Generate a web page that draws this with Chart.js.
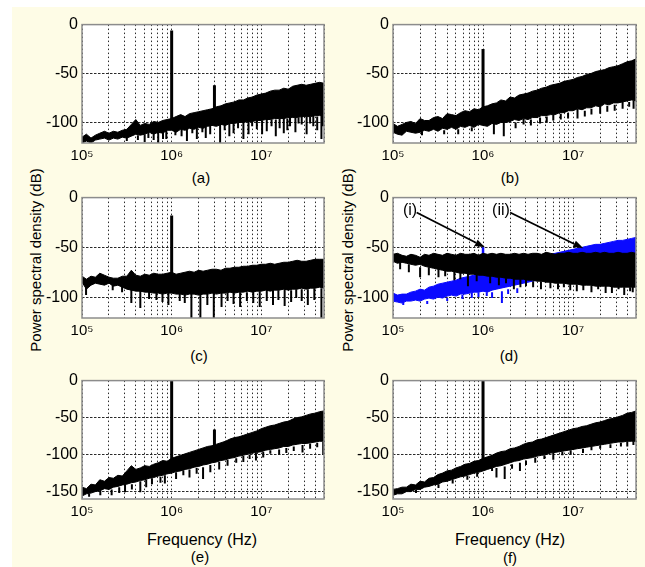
<!DOCTYPE html>
<html>
<head>
<meta charset="utf-8">
<script src="https://cdn.jsdelivr.net/npm/chart.js@4.4.1/dist/chart.umd.min.js"></script>
<style>
  html, body { margin: 0; padding: 0; background: #fff; }
  body { width: 645px; height: 567px; position: relative; overflow: hidden; font-family: "Liberation Sans", Arial, sans-serif; }
  #bg { position: absolute; left: 12px; top: 7px; right: 0; bottom: 0; background: #fefce6; }
  canvas { position: absolute; }
  .lbl { position: absolute; transform: translate(-50%, -50%); white-space: nowrap; color: #000; font-size: 15px; }
  .ylab { position: absolute; transform: translate(-50%, -50%) rotate(-90deg); white-space: nowrap; color: #000; font-size: 15px; }
</style>
</head>
<body>
<div id="bg"></div>

<div class="lbl" style="left:201px; top:177px">(a)</div>
<div class="lbl" style="left:510px; top:177px">(b)</div>
<div class="lbl" style="left:199px; top:355px">(c)</div>
<div class="lbl" style="left:509px; top:355px">(d)</div>
<div class="lbl" style="left:202px; top:540px; font-size:16px">Frequency (Hz)</div>
<div class="lbl" style="left:510px; top:540px; font-size:16px">Frequency (Hz)</div>
<div class="lbl" style="left:200px; top:556px">(e)</div>
<div class="lbl" style="left:510px; top:557px">(f)</div>
<div class="ylab" style="left:35px; top:260px">Power spectral density (dB)</div>
<div class="ylab" style="left:347px; top:260px">Power spectral density (dB)</div>

<script>
// frequency points (Hz), shared by every trace
const freq = [1.00e5, 1.12e5, 1.26e5, 1.41e5, 1.58e5, 1.78e5, 2.00e5, 2.24e5, 2.51e5, 2.82e5,
  3.16e5, 3.55e5, 3.98e5, 4.47e5, 5.01e5, 5.62e5, 6.31e5, 7.08e5, 7.94e5, 8.91e5,
  1.00e6, 1.12e6, 1.26e6, 1.41e6, 1.58e6, 1.78e6, 2.00e6, 2.24e6, 2.51e6, 2.82e6,
  3.16e6, 3.55e6, 3.98e6, 4.47e6, 5.01e6, 5.62e6, 6.31e6, 7.08e6, 7.94e6, 8.91e6,
  1.00e7, 1.12e7, 1.26e7, 1.41e7, 1.58e7, 1.78e7, 2.00e7, 2.24e7, 2.51e7, 2.82e7,
  3.16e7, 3.55e7, 3.98e7, 4.47e7, 5.00e7];

// grid / tick values
const xGrid = [1e5, 2e5, 3e5, 4e5, 5e5, 6e5, 7e5, 8e5, 9e5,
  1e6, 2e6, 3e6, 4e6, 5e6, 6e6, 7e6, 8e6, 9e6,
  1e7, 2e7, 3e7, 4e7, 5e7];
const decadeValues = [1e5, 1e6, 1e7];
const decadeText = ['10\u2075', '10\u2076', '10\u2077'];
const yTicks = [0, -50, -100, -150];

// (a) upper / lower edge of the noise band (dB)
const aTop = [-115, -112, -116, -113, -111, -109, -111, -109, -110, -108,
  -107, -102, -97, -103, -101, -102, -99, -100, -98, -97,
  -96, -94, -92, -94, -91, -90, -89, -88, -87, -86,
  -84, -83, -81, -80, -79, -77, -77, -75, -74, -72,
  -71, -70, -68, -67, -67, -65, -66, -63, -62, -61,
  -62, -61, -60, -59, -60];
const aBot = [-121, -119, -121, -118, -117, -116, -118, -116, -117, -115,
  -116, -114, -112, -113, -112, -110, -112, -110, -111, -108,
  -108, -110, -107, -108, -106, -107, -105, -106, -104, -103,
  -104, -102, -103, -101, -101, -100, -100, -99, -99, -98,
  -98, -97, -97, -96, -96, -96, -95, -95, -95, -94,
  -94, -94, -93, -93, -93];
// [freq, from dB, to dB]
const aDips = [[3.16e5, -112, -119], [4.2e5, -113, -118], [5.0e5, -112, -120], [5.50e5, -108, -116],
  [6.3e5, -110, -118], [7.08e5, -108, -121], [8.0e5, -110, -117], [8.71e5, -106, -117],
  [1.1e6, -108, -113], [1.29e6, -105, -114], [1.48e6, -105, -119], [1.7e6, -106, -111],
  [1.91e6, -104, -117], [2.2e6, -103, -110], [2.4e6, -104, -116], [2.69e6, -100, -112],
  [3.47e6, -100, -121], [3.9e6, -101, -108], [4.4e6, -101, -114], [4.90e6, -98, -111],
  [5.5e6, -100, -106], [6.31e6, -97, -117], [7.2e6, -99, -112], [7.9e6, -99, -104],
  [8.91e6, -94, -107], [1.02e7, -98, -112], [1.15e7, -93, -109], [1.3e7, -97, -104],
  [1.45e7, -97, -114], [1.6e7, -96, -106], [1.78e7, -90, -111], [1.95e7, -96, -108],
  [2.09e7, -89, -104], [2.4e7, -95, -110], [2.6e7, -95, -101], [2.82e7, -88, -102],
  [3.2e7, -94, -112], [3.5e7, -94, -101], [3.80e7, -87, -104], [4.2e7, -94, -108],
  [4.68e7, -86, -117], [4.9e7, -93, -104]];
const aSpikes = [[1.0e6, -100, -6], [3.0e6, -90, -62]];

// (b)
const bTop = [-101, -104, -102, -100, -99, -101, -96, -98, -98, -95,
  -94, -96, -91, -92, -93, -90, -88, -89, -86, -87,
  -84, -83, -81, -80, -77, -78, -74, -75, -72, -71,
  -70, -68, -67, -65, -64, -62, -61, -60, -58, -57,
  -56, -54, -53, -51, -50, -48, -47, -46, -44, -43,
  -42, -40, -38, -37, -35];
const bBot = [-110, -112, -113, -109, -110, -111, -110, -108, -109, -107,
  -109, -106, -107, -105, -107, -104, -105, -103, -105, -102,
  -103, -104, -101, -102, -100, -100, -99, -97, -98, -96,
  -97, -95, -95, -93, -93, -92, -92, -90, -90, -88,
  -88, -86, -87, -85, -85, -83, -84, -81, -82, -80,
  -80, -79, -78, -77, -78];
const bDips = [[2.1e5, -109, -113], [3.7e5, -108, -112], [5.3e5, -107, -112], [7.5e5, -105, -109],
  [1.32e6, -100, -112], [1.70e6, -100, -114], [2.3e6, -100, -106], [2.82e6, -96, -102],
  [3.4e6, -97, -103], [4.3e6, -95, -101], [5.1e6, -94, -100], [6.03e6, -92, -98],
  [7.3e6, -91, -97], [8.8e6, -90, -96], [1.12e7, -86, -96], [1.35e7, -88, -94],
  [1.6e7, -86, -92], [2.00e7, -83, -91], [2.4e7, -83, -89], [2.9e7, -82, -88],
  [3.55e7, -79, -86], [4.2e7, -79, -84], [4.7e7, -78, -86]];
const bSpikes = [[1.0e6, -100, -25]];

// (c)
const cTop = [-79, -82, -79, -80, -76, -78, -80, -81, -81, -79,
  -79, -73, -78, -79, -77, -78, -76, -77, -77, -76,
  -75, -77, -76, -75, -74, -75, -73, -74, -73, -72,
  -72, -73, -71, -71, -70, -70, -69, -69, -68, -68,
  -67, -67, -66, -67, -66, -65, -65, -64, -63, -64,
  -64, -63, -62, -62, -62];
const cBot = [-85, -92, -88, -86, -87, -88, -86, -89, -88, -90,
  -92, -93, -94, -94, -95, -95, -96, -96, -97, -96,
  -96, -97, -97, -98, -97, -97, -98, -97, -97, -96,
  -97, -96, -96, -95, -96, -95, -95, -94, -95, -94,
  -94, -93, -94, -93, -93, -92, -93, -92, -92, -91,
  -92, -91, -91, -90, -91];
const cDips = [[1.11e5, -88, -98], [2.2e5, -87, -93], [2.8e5, -88, -95], [3.55e5, -90, -106],
  [4.47e5, -92, -111], [5.6e5, -94, -102], [6.76e5, -94, -103], [7.9e5, -96, -105],
  [9.2e5, -96, -108], [1.23e6, -95, -104], [1.4e6, -97, -106], [1.66e6, -95, -121],
  [2.09e6, -95, -121], [2.5e6, -97, -108], [2.95e6, -95, -121], [3.6e6, -96, -110],
  [4.2e6, -96, -104], [4.90e6, -94, -107], [5.8e6, -95, -110], [6.9e6, -95, -104],
  [8.13e6, -94, -106], [9.6e6, -94, -110], [1.15e7, -93, -104], [1.35e7, -93, -108],
  [1.55e7, -93, -103], [1.82e7, -92, -109], [2.15e7, -93, -105], [2.45e7, -92, -101],
  [2.82e7, -92, -104], [3.3e7, -92, -108], [3.9e7, -91, -103], [4.68e7, -91, -121]];
const cSpikes = [[1.0e6, -90, -18]];

// (d) trace (i) blue, trace (ii) black
const dBlueTop = [-96, -98, -97, -97, -95, -94, -92, -93, -90, -89,
  -87, -86, -85, -84, -83, -81, -80, -79, -78, -76,
  -75, -74, -73, -71, -70, -69, -68, -67, -66, -64,
  -63, -62, -61, -59, -58, -57, -56, -55, -54, -53,
  -52, -51, -50, -49, -48, -47, -47, -46, -45, -44,
  -43, -43, -42, -41, -40];
const dBlueBot = [-104, -105, -106, -104, -104, -103, -104, -102, -101, -102,
  -100, -101, -99, -98, -99, -97, -97, -96, -95, -95,
  -94, -95, -93, -92, -91, -90, -89, -88, -87, -86,
  -85, -84, -83, -82, -81, -80, -79, -78, -77, -76,
  -75, -74, -73, -72, -71, -70, -69, -68, -67, -66,
  -65, -64, -64, -63, -62];
const dBlueDips = [[1.3e5, -105, -108], [2.4e5, -104, -107], [4.0e5, -101, -104], [5.9e5, -98, -102],
  [7.5e5, -96, -101], [8.9e5, -95, -100], [1.1e6, -95, -99], [1.26e6, -95, -101],
  [1.62e6, -94, -106], [1.9e6, -92, -97], [2.4e6, -91, -96]];
const dBlueSpikes = [[1.0e6, -70, -50]];
const dBlackTop = [-57, -56, -58, -59, -57, -58, -60, -57, -58, -56,
  -57, -58, -56, -57, -58, -56, -57, -57, -56, -58,
  -56, -57, -56, -57, -56, -57, -57, -56, -57, -56,
  -57, -56, -56, -57, -55, -56, -57, -56, -56, -55,
  -56, -56, -55, -56, -56, -55, -56, -55, -56, -56,
  -55, -56, -56, -55, -56];
const dBlackBot = [-64, -66, -65, -66, -67, -68, -67, -69, -70, -71,
  -72, -73, -74, -74, -75, -76, -76, -77, -77, -78,
  -78, -79, -79, -80, -80, -81, -81, -82, -82, -82,
  -83, -83, -84, -84, -85, -85, -86, -86, -86, -87,
  -87, -87, -88, -88, -88, -89, -89, -89, -89, -90,
  -90, -90, -90, -90, -90];
const dBlackDips = [[1.2e5, -65, -72], [1.5e5, -67, -75], [2.0e5, -70, -80], [2.5e5, -70, -78],
  [3.2e5, -71, -80], [3.8e5, -72, -79], [4.8e5, -72, -83], [5.6e5, -74, -82],
  [6.8e5, -74, -89], [8.5e5, -77, -84], [1.2e6, -76, -86], [1.5e6, -80, -88],
  [1.8e6, -81, -86], [2.2e6, -80, -92], [2.6e6, -82, -90], [3.0e6, -80, -89],
  [3.6e6, -84, -90], [4.4e6, -84, -92], [5.6e6, -83, -91], [6.8e6, -86, -92],
  [7.9e6, -86, -90], [9.3e6, -84, -93], [1.1e7, -87, -94], [1.3e7, -85, -93],
  [1.6e7, -88, -95], [1.9e7, -88, -92], [2.3e7, -86, -96], [2.7e7, -89, -96],
  [3.2e7, -86, -92], [3.7e7, -90, -98], [4.3e7, -90, -94], [4.6e7, -87, -95]];
// arrows: [from freq, from dB, to freq, to dB]
const dArrows = [[1.83e5, -15, 1.05e6, -50], [2.0e6, -15, 1.3e7, -51]];

// (e)
const eTop = [-144, -146, -140, -141, -134, -136, -131, -132, -128, -129,
  -122, -115, -120, -118, -115, -116, -113, -111, -108, -109,
  -105, -103, -101, -99, -97, -95, -93, -91, -89, -88,
  -86, -84, -82, -79, -77, -76, -74, -72, -70, -68,
  -65, -63, -61, -60, -58, -56, -55, -52, -50, -49,
  -47, -45, -44, -42, -41];
const eBot = [-156, -153, -152, -150, -149, -146, -147, -144, -143, -141,
  -140, -138, -137, -135, -134, -132, -131, -129, -128, -126,
  -125, -123, -122, -120, -119, -117, -116, -114, -113, -111,
  -110, -108, -107, -105, -104, -102, -101, -99, -98, -97,
  -96, -94, -93, -92, -91, -89, -89, -87, -86, -85,
  -85, -84, -83, -82, -82];
const eDips = [[1.2e5, -153, -157], [1.6e5, -149, -155], [2.14e5, -147, -155], [2.6e5, -144, -152],
  [3.02e5, -140, -151], [3.6e5, -140, -147], [4.47e5, -136, -151], [5.2e5, -134, -144],
  [6.03e5, -132, -140], [7.5e5, -130, -138], [8.4e5, -128, -139], [1.12e6, -124, -133],
  [1.35e6, -121, -128], [1.58e6, -120, -131], [1.9e6, -118, -126], [2.24e6, -117, -133],
  [2.7e6, -114, -124], [3.39e6, -110, -120], [4.2e6, -107, -115], [5.25e6, -105, -111],
  [6.3e6, -102, -110], [7.4e6, -100, -106], [8.71e6, -98, -108], [1.05e7, -96, -104],
  [1.26e7, -94, -99], [1.58e7, -93, -100], [1.9e7, -91, -98], [2.3e7, -89, -95],
  [2.88e7, -87, -97], [3.5e7, -85, -92], [4.2e7, -84, -90], [4.9e7, -83, -100]];
const eSpikes = [[1.0e6, -120, 0], [3.0e6, -95, -66]];

// (f)
const fTop = [-147, -146, -144, -144, -140, -141, -136, -137, -132, -131,
  -127, -125, -122, -121, -118, -116, -113, -112, -109, -108,
  -105, -103, -101, -98, -96, -95, -92, -91, -89, -86,
  -84, -83, -80, -79, -77, -75, -73, -71, -69, -67,
  -65, -64, -62, -61, -59, -57, -56, -54, -52, -51,
  -49, -47, -44, -43, -41];
const fBot = [-155, -153, -153, -150, -150, -147, -147, -144, -143, -141,
  -140, -137, -136, -134, -132, -130, -129, -127, -125, -124,
  -122, -120, -118, -116, -115, -113, -111, -109, -108, -106,
  -105, -104, -102, -101, -100, -98, -97, -96, -95, -94,
  -93, -92, -91, -90, -89, -88, -87, -86, -85, -84,
  -83, -83, -82, -82, -82];
const fDips = [[1.8e5, -148, -152], [3.2e5, -140, -145], [4.6e5, -134, -139], [6.7e5, -129, -134],
  [8.6e5, -125, -130], [1.26e6, -118, -122], [1.41e6, -118, -131], [1.74e6, -116, -133],
  [2.1e6, -113, -119], [2.57e6, -111, -122], [3.0e6, -108, -114], [3.8e6, -104, -111],
  [4.8e6, -101, -106], [6.03e6, -97, -107], [7.6e6, -96, -101], [9.4e6, -94, -100],
  [1.29e7, -92, -98], [1.6e7, -89, -94], [2.0e7, -88, -92], [2.6e7, -86, -91],
  [3.4e7, -84, -89], [4.0e7, -83, -89], [4.68e7, -82, -87]];
const fSpikes = [[1.0e6, -115, 0]];

// plot areas in page pixels
const layout = {
  a: { left: 82, top: 23, width: 242, height: 120, yMin: -121 },
  b: { left: 393, top: 23, width: 243, height: 120, yMin: -121 },
  c: { left: 82, top: 196, width: 242, height: 122, yMin: -121 },
  d: { left: 393, top: 196, width: 243, height: 122, yMin: -121 },
  e: { left: 82, top: 379, width: 242, height: 120, yMin: -160 },
  f: { left: 393, top: 379, width: 243, height: 120, yMin: -160 }
};
const AXIS_W = 50, AXIS_H = 28, PAD_TOP = 12, PAD_RIGHT = 8;
const BLACK = '#000000', BLUE = '#0a0aff';

function pts(xs, ys) {
  return xs.map((x, i) => ({ x: x, y: ys[i] }));
}

// vertical strokes, split by null so each one is drawn on its own
function sticks(list) {
  const out = [];
  list.forEach(d => {
    out.push({ x: d[0], y: d[1] }, { x: d[0], y: d[2] }, { x: d[0], y: null });
  });
  return out;
}

function band(top, bottom, color, order) {
  return [
    { data: pts(freq, top), borderColor: color, backgroundColor: color, borderWidth: 1, fill: '+1', order: order },
    { data: pts(freq, bottom), borderColor: color, borderWidth: 1, fill: false, order: order }
  ];
}

function lines(list, color, width, order) {
  return { data: sticks(list), borderColor: color, borderWidth: width, fill: false, order: order };
}

const framePlugin = {
  id: 'frame',
  beforeDraw(chart) {
    const a = chart.chartArea, c = chart.ctx;
    c.save();
    c.fillStyle = '#ffffff';
    c.fillRect(a.left, a.top, a.right - a.left, a.bottom - a.top);
    c.restore();
  },
  afterDraw(chart) {
    const a = chart.chartArea, c = chart.ctx;
    c.save();
    c.strokeStyle = '#8c8c8c';
    c.lineWidth = 1.5;
    c.strokeRect(a.left, a.top, a.right - a.left, a.bottom - a.top);
    c.restore();
  }
};

const arrowPlugin = {
  id: 'arrows',
  afterDatasetsDraw(chart) {
    const xs = chart.scales.x, ys = chart.scales.y, c = chart.ctx;
    c.save();
    c.strokeStyle = '#000';
    c.fillStyle = '#000';
    c.lineWidth = 1.8;
    dArrows.forEach(a => {
      const x1 = xs.getPixelForValue(a[0]), y1 = ys.getPixelForValue(a[1]);
      const x2 = xs.getPixelForValue(a[2]), y2 = ys.getPixelForValue(a[3]);
      const ang = Math.atan2(y2 - y1, x2 - x1);
      const len = 10, half = 3.5;
      const bx = x2 - len * Math.cos(ang), by = y2 - len * Math.sin(ang);
      c.beginPath();
      c.moveTo(x1, y1);
      c.lineTo(bx, by);
      c.stroke();
      c.beginPath();
      c.moveTo(x2, y2);
      c.lineTo(bx + half * Math.sin(ang), by - half * Math.cos(ang));
      c.lineTo(bx - half * Math.sin(ang), by + half * Math.cos(ang));
      c.closePath();
      c.fill();
    });
    c.restore();
  }
};

function makePanel(key, datasets, extraPlugins) {
  const L = layout[key];
  const cv = document.createElement('canvas');
  cv.width = L.width + AXIS_W + PAD_RIGHT;
  cv.height = L.height + PAD_TOP + AXIS_H;
  cv.style.left = (L.left - AXIS_W) + 'px';
  cv.style.top = (L.top - PAD_TOP) + 'px';
  document.body.appendChild(cv);

  new Chart(cv, {
    type: 'line',
    data: { datasets: datasets },
    options: {
      responsive: false,
      animation: false,
      events: [],
      layout: { padding: { top: PAD_TOP, right: PAD_RIGHT, left: 0, bottom: 0 } },
      plugins: { legend: { display: false }, tooltip: { enabled: false } },
      elements: { point: { radius: 0 }, line: { tension: 0 } },
      scales: {
        x: {
          type: 'logarithmic',
          min: 1e5,
          max: 5e7,
          afterBuildTicks: s => { s.ticks = xGrid.map(v => ({ value: v })); },
          afterFit: s => { s.height = AXIS_H; },
          grid: { color: '#2a2a2a', lineWidth: 1, drawTicks: false },
          border: { display: false, dash: [1.5, 2.5] },
          ticks: {
            autoSkip: false,
            maxRotation: 0,
            padding: 4,
            color: '#000',
            font: { family: '"Liberation Sans", Arial, sans-serif', size: 15 },
            callback: v => {
              const i = decadeValues.indexOf(v);
              return i < 0 ? '' : decadeText[i];
            }
          }
        },
        y: {
          type: 'linear',
          min: L.yMin,
          max: 0,
          afterBuildTicks: s => { s.ticks = yTicks.filter(v => v >= L.yMin).map(v => ({ value: v })); },
          afterFit: s => { s.width = AXIS_W; },
          grid: { color: '#2a2a2a', lineWidth: 1, drawTicks: false },
          border: { display: false, dash: [2.5, 1.5] },
          ticks: {
            padding: 4,
            color: '#000',
            font: { family: '"Liberation Sans", Arial, sans-serif', size: 16 }
          }
        }
      }
    },
    plugins: [framePlugin].concat(extraPlugins || [])
  });
}

makePanel('a', band(aTop, aBot, BLACK, 2).concat([lines(aDips, BLACK, 2, 2), lines(aSpikes, BLACK, 3, 1)]));
makePanel('b', band(bTop, bBot, BLACK, 2).concat([lines(bDips, BLACK, 2, 2), lines(bSpikes, BLACK, 3, 1)]));
makePanel('c', band(cTop, cBot, BLACK, 2).concat([lines(cDips, BLACK, 2, 2), lines(cSpikes, BLACK, 3, 1)]));
makePanel('d', band(dBlackTop, dBlackBot, BLACK, 2).concat(
  [lines(dBlackDips, BLACK, 2, 2)],
  band(dBlueTop, dBlueBot, BLUE, 3),
  [lines(dBlueDips, BLUE, 2, 3), lines(dBlueSpikes, BLUE, 2.5, 3)]
), [arrowPlugin]);
makePanel('e', band(eTop, eBot, BLACK, 2).concat([lines(eDips, BLACK, 2, 2), lines(eSpikes, BLACK, 3, 1)]));
makePanel('f', band(fTop, fBot, BLACK, 2).concat([lines(fDips, BLACK, 2, 2), lines(fSpikes, BLACK, 3, 1)]));
</script>

<div class="lbl" style="left:410px; top:210px; font-size:16px">(i)</div>
<div class="lbl" style="left:501px; top:210px; font-size:16px">(ii)</div>
</body>
</html>
